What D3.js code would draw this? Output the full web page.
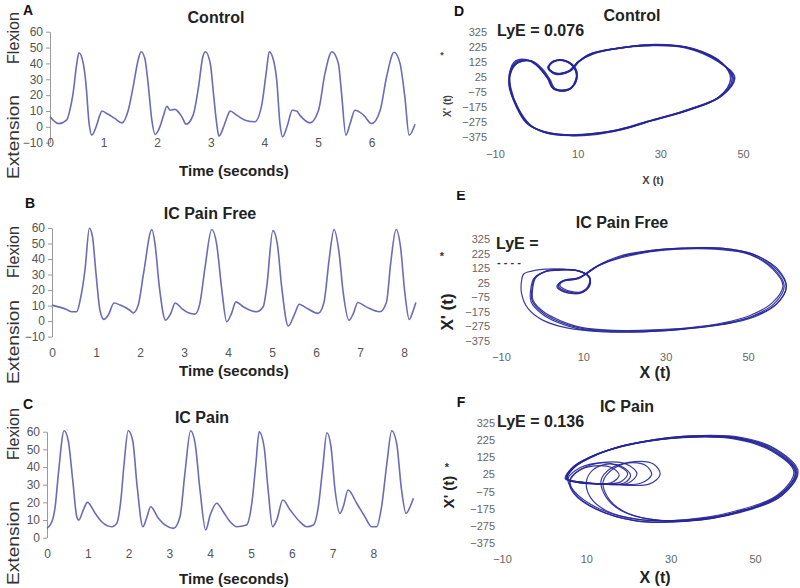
<!DOCTYPE html>
<html><head><meta charset="utf-8">
<script src="https://cdn.jsdelivr.net/npm/d3@7"></script>
<style>body{margin:0;background:#fff} svg{display:block} text{font-family:Arial,"Liberation Sans",sans-serif}</style>
</head><body><svg id="c" width="800" height="588"></svg>
<script>
// ---------- time series data (seconds, degrees) ----------
const timeA  = [0,0.16,0.31,0.37,0.43,0.5,0.54,0.62,0.67,0.73,0.78,0.87,0.93,0.97,1.06,1.21,1.34,1.46,1.55,1.65,1.70,1.77,1.83,1.90,1.96,2.05,2.12,2.18,2.24,2.33,2.46,2.54,2.67,2.77,2.85,2.90,2.99,3.05,3.11,3.15,3.25,3.33,3.36,3.48,3.67,3.82,3.95,4.04,4.09,4.17,4.23,4.29,4.34,4.43,4.52,4.60,4.66,4.85,5.01,5.13,5.26,5.38,5.44,5.52,5.60,5.69,5.85,6.00,6.16,6.28,6.42,6.53,6.62,6.70,6.81];
const angleA = [6.3,2,4.2,10.5,21,40,46.7,40,27.4,2,-5.2,1,7.4,10,8.4,5.3,2.5,10.5,25,43,47.4,43,27.4,4.2,-4.8,0,7.4,13,10.5,11,6.3,1.7,7.4,25,44,47.4,40,21,2,-5.9,1,8.4,10,7.4,3.8,3.2,13.7,35.8,47.4,42,29.5,2,-6.3,1,10.5,10,7.4,2.5,10.5,33.7,47.4,40,21,-5.2,2.1,10.5,7.4,2.1,10.5,31.6,47,40,19,-5.2,1.7];

const timeB  = [0,0.33,0.45,0.56,0.64,0.75,0.85,0.92,1.0,1.09,1.18,1.28,1.41,1.55,1.77,1.85,1.96,2.08,2.27,2.34,2.44,2.58,2.70,2.80,2.95,3.10,3.25,3.36,3.48,3.63,3.74,3.86,3.97,4.08,4.18,4.35,4.65,4.80,4.88,5.02,5.12,5.22,5.37,5.52,5.62,5.75,6.05,6.18,6.30,6.41,6.52,6.62,6.75,6.85,6.95,7.15,7.45,7.60,7.70,7.82,7.92,8.02,8.12,8.20,8.27];
const angleB = [10.3,7.5,6,6,13.5,33,59.8,54.4,30.6,7,1.1,3.9,11.7,10.3,7,5.3,10.3,30.6,59,50,22,0.6,5,11.7,8.1,5.3,4.5,11.3,35,59,50,20,-0.4,5,12.4,9.2,6,9.2,22,58.3,50,22,-3.2,5,10.9,9,5,12,40,59,45,18,0.5,5,12,9,6,12,38,59,48,18,1,6,12];

const timeC  = [0,0.12,0.2,0.28,0.42,0.52,0.63,0.73,0.78,0.89,0.99,1.18,1.34,1.59,1.71,1.81,1.89,1.99,2.10,2.21,2.35,2.44,2.54,2.73,2.89,3.10,3.26,3.38,3.52,3.63,3.75,3.89,4.0,4.16,4.32,4.49,4.65,4.89,5.02,5.12,5.20,5.32,5.42,5.53,5.63,5.78,5.96,6.20,6.37,6.53,6.65,6.76,6.86,6.96,7.06,7.18,7.26,7.38,7.59,7.79,7.96,8.08,8.20,8.33,8.45,8.57,8.69,8.80,8.90,8.98];
const angleC = [5.3,9,17.5,36.4,60.5,55,32.7,11.9,10,15.7,20,13.8,9,6.2,8.1,21.3,42,60.5,55,28.9,6.2,11,17.5,11,7.2,5.3,11.9,36.4,60.5,53.4,27,4.4,12.8,19.5,14.7,9,6.2,7.2,19.5,42,60,51.5,27,6.2,10,21.3,15.7,9,6.2,7.2,17.5,40,59.4,51.5,27,13.8,17.5,27,19.5,11.9,6.2,6.2,17.5,42,60.5,53.4,27,13.8,17.5,22.3];

const secondTicksA = [0,1,2,3,4,5,6];
const secondTicksBC = [0,1,2,3,4,5,6,7,8];
const degreeTicks = [-10,0,10,20,30,40,50,60];
const degreeTicksC = [0,10,20,30,40,50,60];

// ---------- phase portraits: cycles of [X(t), X'(t)] ----------
const phaseD = [
 [[-4.7,125],[-1.5,132],[1,80],[3,10],[4,-50],[7,-68],[8.5,-50],[9.6,0],[9.5,70],[7.5,125],[4.5,130],[2.8,85],[4.5,45],[8,65],[10,120],[13,175],[20,215],[28,236],[37,215],[44.5,120],[47.7,14],[44.5,-108],[36.4,-200],[28,-265],[20,-330],[12,-362],[8,-366],[2,-345],[-2,-290],[-4.7,-175],[-6.4,-40],[-6.2,60]],
 [[-4.3,120],[-1,128],[1.5,75],[3.3,5],[4.5,-55],[7.2,-62],[8.8,-40],[9.8,10],[9.2,85],[7,130],[4,127],[3,80],[5,40],[8.5,70],[10.5,130],[14,180],[21,220],[29,240],[38,212],[45,115],[47,10],[44,-115],[36,-205],[27,-272],[19,-333],[11,-360],[7,-362],[1.5,-340],[-2.5,-280],[-5,-165],[-6.6,-30],[-6,65]],
 [[-5,130],[-2,135],[0.5,90],[2.7,15],[3.8,-45],[6.5,-72],[8.3,-55],[9.4,-5],[9.8,60],[8,120],[5,135],[3,90],[4.2,50],[7.6,58],[9.6,110],[12.5,170],[19,212],[27.5,232],[36,218],[44,125],[48,20],[45,-100],[37,-192],[29,-258],[21,-325],[13,-364],[8.5,-368],[2.5,-350],[-1.5,-295],[-4.4,-185],[-6.2,-50],[-6.4,55]],
 [[-4.5,118],[-1.2,128],[1.2,70],[3.1,0],[4.2,-58],[7,-66],[8.6,-45],[9.7,5],[9.3,75],[7.2,128],[4.2,128],[2.9,82],[4.8,48],[8.2,62],[10.2,125],[13.5,178],[20.5,218],[28.5,238],[37.5,214],[44.8,118],[47.4,12],[44.2,-112],[36.2,-202],[28,-268],[20,-328],[12,-360],[7.5,-364],[2,-342],[-2.2,-285],[-4.8,-170],[-6.5,-35],[-6.3,62]]
];
const phaseE = [
 [[0.7,101],[4.3,113],[8.5,108],[11.3,70],[11.5,10],[9.8,-40],[6.5,-38],[4,0],[5,38],[8.5,55],[10.5,85],[13.5,140],[19,200],[26,240],[33,258],[43,258],[51,215],[56.5,115],[58.8,0],[56.5,-115],[51,-205],[44,-255],[35,-288],[25,-305],[17,-305],[9,-285],[4,-240],[0.3,-184],[-2.4,-100],[-2.5,-20],[-1.8,56]],
 [[1,105],[4.5,116],[9,105],[11.6,60],[11.3,0],[9.5,-45],[6,-42],[3.6,-5],[4.6,32],[8,50],[10.2,80],[13,135],[18.5,205],[26,245],[34,262],[44,260],[52,212],[57.5,110],[59.3,-5],[57,-120],[51.5,-210],[44,-262],[35,-292],[25,-310],[16.5,-310],[8.5,-290],[3.5,-245],[0,-190],[-2.7,-105],[-2.8,-25],[-2,55]],
 [[0.5,98],[4,110],[8,110],[11,75],[11.7,15],[10,-35],[7,-35],[4.3,5],[5.4,42],[9,58],[11,90],[14,145],[19.5,198],[26,236],[32,254],[42,255],[50.5,218],[56,118],[58.5,5],[56,-110],[50.5,-200],[44,-250],[35.5,-284],[25.5,-300],[17.5,-302],[9.5,-282],[4.5,-236],[0.6,-180],[-2.2,-95],[-2.3,-15],[-1.6,58]],
 [[-2.5,105],[1,118],[5,118],[9.5,102],[11.5,55],[11,-5],[9,-42],[5.5,-40],[3.8,-2],[5.2,36],[8.8,52],[10.8,88],[13.5,142],[19,203],[26,243],[34,262],[43.5,262],[51.5,218],[57,115],[59.3,0],[57,-118],[51,-210],[43.5,-262],[34.5,-293],[24.5,-312],[15,-312],[6,-285],[0,-230],[-3.5,-150],[-5,-50],[-5,40],[-4.5,85]]
];
const phaseF = [
 [[5.5,0],[6.8,65],[10,115],[15,165],[22,208],[33.8,243],[45.6,234],[54.3,165],[59.6,40],[55.9,-96],[45.6,-194],[33.8,-240],[22,-236],[15,-190],[11,-110],[10,-20],[11.5,50],[15,85],[18.5,70],[20.5,20],[19,-25],[14,-30],[8.5,-20]],
 [[5.2,2],[7,72],[10.5,122],[15.5,170],[22.5,212],[34,248],[46,240],[54.8,170],[60,38],[56.2,-100],[45.6,-198],[33.5,-246],[21.5,-244],[12.2,-176],[7,-85],[6,-15],[8,45],[12,75],[16,65],[17.8,20],[16,-22],[11.5,-28],[7.5,-18]],
 [[5,0],[6.5,60],[9.8,112],[14.8,162],[21.5,205],[33,240],[45,232],[53.8,163],[59.2,42],[55.5,-92],[45.2,-190],[33.8,-238],[22.2,-238],[12.8,-172],[7.2,-75],[5.6,-5],[7.5,50],[12,90],[17,80],[19.8,30],[18,-20],[12.5,-30],[7.5,-20]],
 [[5.4,0],[7.2,68],[10.8,120],[16,172],[23,214],[34.5,250],[46.5,242],[55,172],[60.2,44],[56.4,-98],[46,-200],[34,-248],[21.8,-246],[12.5,-178],[7.2,-82],[6.2,-10],[8.8,55],[14,95],[19.5,85],[22,30],[20,-25],[13.5,-32],[8,-22]],
 [[5.6,0],[7.5,75],[11.2,128],[16.5,178],[23.5,216],[34.2,246],[45.8,238],[54.5,168],[59.8,40],[56,-95],[46,-196],[34,-246],[25,-236],[18.5,-185],[15,-105],[14,-15],[16.5,60],[21.5,100],[26,85],[27.5,25],[25,-30],[17,-35],[9.5,-22]],
 [[5.3,0],[7.3,70],[11,125],[16.2,175],[23,213],[33.5,244],[45.2,236],[54,166],[59.5,38],[55.7,-94],[45.8,-195],[34,-244],[24.5,-234],[18,-182],[14.5,-100],[13.5,-10],[15.5,55],[20,92],[24,78],[25.5,25],[23,-25],[16,-32],[9,-20]]
];
const phaseYTicks = [325,225,125,25,-75,-175,-275,-375];
const phaseXTicks = [-10,10,30,50];

const titles = ["Control","IC Pain Free","IC Pain"];
const lyeLabels = ["LyE = 0.076","LyE =","LyE = 0.136"];

// ---------- drawing ----------
const svg = d3.select("#c");
svg.append("rect").attr("width",800).attr("height",588).attr("fill","#fff");
const seriesColor = "#6b6bb8";
const phaseColor = "#26269a";
const FONT = "Arial, 'Liberation Sans', sans-serif";

function txt(x, y, s, o) {
  o = o || {};
  const t = svg.append("text").attr("x", x).attr("y", y).text(s)
    .attr("text-anchor", o.anchor || "middle")
    .attr("dominant-baseline", "central")
    .attr("fill", o.fill || "#222")
    .style("font-size", (o.size || 16) + "px")
    .style("font-weight", o.bold ? "bold" : "normal");
  if (o.rotate) t.attr("transform", `rotate(-90,${x},${y})`);
  if (o.len) t.attr("textLength", o.len).attr("lengthAdjust", "spacingAndGlyphs");
  return t;
}

function tsPanel(c) {
  const x = d3.scaleLinear().domain(c.xDomain).range(c.xRange);
  const y = d3.scaleLinear().domain(c.yDomain).range(c.yRange);
  const gy = svg.append("g").attr("transform", `translate(${x(0)},0)`)
    .call(d3.axisLeft(y).tickValues(c.yTicks).tickFormat(d3.format("d")).tickSize(4).tickPadding(3).tickSizeOuter(0));
  gy.select(".domain").attr("stroke", "#9a9a9a");
  gy.selectAll(".tick line").attr("stroke", "#9a9a9a");
  gy.selectAll("text").attr("fill", "#555").style("font-size", "12px").style("font-family", FONT);
  const gx = svg.append("g").attr("transform", `translate(0,${c.xLabelY})`)
    .call(d3.axisBottom(x).tickValues(c.xTicks).tickFormat(d3.format("d")).tickSize(0).tickPadding(0));
  gx.select(".domain").remove();
  gx.selectAll("text").attr("dy", "0.35em").attr("fill", "#555").style("font-size", "12px").style("font-family", FONT);
  const pts = c.t.map((t, i) => [t, c.v[i]]);
  svg.append("path").datum(pts)
    .attr("d", d3.line().x(d => x(d[0])).y(d => y(d[1])).curve(d3.curveMonotoneX))
    .attr("fill", "none").attr("stroke", seriesColor).attr("stroke-width", 1.6);
}

tsPanel({t: timeA, v: angleA, xDomain: [0, 7], xRange: [50, 425.2], yDomain: [-10, 60], yRange: [142.7, 31.7],
  yTicks: degreeTicks, xTicks: secondTicksA, xLabelY: 143});
tsPanel({t: timeB, v: angleB, xDomain: [0, 9], xRange: [52, 448], yDomain: [-10, 60], yRange: [336.6, 228],
  yTicks: degreeTicks, xTicks: secondTicksBC, xLabelY: 353});
tsPanel({t: timeC, v: angleC, xDomain: [0, 9], xRange: [47, 414.2], yDomain: [0, 60], yRange: [537.7, 431.7],
  yTicks: degreeTicksC, xTicks: secondTicksBC, xLabelY: 554});

function phasePanel(c) {
  const x = d3.scaleLinear().domain([-10, 50]).range(c.xRange);
  const y = d3.scaleLinear().domain([-375, 325]).range(c.yRange);
  const gy = svg.append("g").attr("transform", `translate(${c.yAxisX},0)`)
    .call(d3.axisLeft(y).tickValues(phaseYTicks).tickSize(0).tickPadding(0));
  gy.select(".domain").remove();
  gy.selectAll("text").attr("fill", "#666").style("font-size", "11px").style("font-family", FONT);
  const gx = svg.append("g").attr("transform", `translate(0,${c.xLabelY})`)
    .call(d3.axisBottom(x).tickValues(phaseXTicks).tickSize(0).tickPadding(0));
  gx.select(".domain").remove();
  gx.selectAll("text").attr("dy", "0.35em").attr("fill", "#666").style("font-size", "11px").style("font-family", FONT);
  const line = d3.line().x(d => x(d[0])).y(d => y(d[1])).curve(d3.curveCatmullRomClosed.alpha(0.5));
  svg.append("g").selectAll("path").data(c.cycles).join("path")
    .attr("d", line).attr("fill", "none").attr("stroke", phaseColor)
    .attr("stroke-width", c.sw).attr("stroke-opacity", 0.9);
}

phasePanel({cycles: phaseD, xRange: [495, 743], yRange: [136.7, 31.7], yAxisX: 487, xLabelY: 154, sw: 1.5});
phasePanel({cycles: phaseE, xRange: [501, 748], yRange: [341, 239], yAxisX: 490, xLabelY: 357, sw: 1.2});
phasePanel({cycles: phaseF, xRange: [502, 755], yRange: [543, 423], yAxisX: 495, xLabelY: 559, sw: 1.2});

// ---------- texts ----------
txt(28, 10, "A", {bold: true, size: 14, fill: "#111"});
txt(30, 203, "B", {bold: true, size: 14, fill: "#111"});
txt(28, 404, "C", {bold: true, size: 14, fill: "#111"});
txt(459, 11, "D", {bold: true, size: 14, fill: "#111"});
svg.append("clipPath").attr("id", "eclip").append("rect").attr("x", 440).attr("y", 191).attr("width", 40).attr("height", 20);
txt(461, 195, "E", {bold: true, size: 14, fill: "#111"}).attr("clip-path", "url(#eclip)");
txt(461, 402, "F", {bold: true, size: 14, fill: "#111"});

txt(216, 17, titles[0], {bold: true, size: 16});
txt(210, 213, titles[1], {bold: true, size: 16});
txt(202, 417, titles[2], {bold: true, size: 16});
[170, 370, 578].forEach(yy => txt(234, yy, "Time (seconds)", {bold: true, size: 15}));

[[38, 137], [252, 342], [434, 543]].forEach(([f, e]) => {
  txt(13, f, "Flexion", {size: 16, rotate: true, fill: "#333", len: 52});
  txt(13, e, "Extension", {size: 16, rotate: true, fill: "#333", len: 84});
});

txt(632, 15, titles[0], {bold: true, size: 16});
txt(622, 222, titles[1], {bold: true, size: 16});
txt(627, 406, titles[2], {bold: true, size: 16});
txt(497, 30, lyeLabels[0], {bold: true, size: 16, anchor: "start"});
txt(496, 243, lyeLabels[1], {bold: true, size: 16, anchor: "start"});
txt(497, 262, "-  - - -", {bold: true, size: 11, anchor: "start", fill: "#333"});
txt(497, 421, lyeLabels[2], {bold: true, size: 16, anchor: "start"});

txt(653, 180, "X (t)", {bold: true, size: 11, fill: "#444"});
txt(655, 372, "X  (t)", {bold: true, size: 16, fill: "#222"});
txt(655, 577, "X (t)", {bold: true, size: 16, fill: "#222"});
txt(447, 106, "X' (t)", {bold: true, size: 10, rotate: true, fill: "#444"});
txt(447, 312, "X' (t)", {bold: true, size: 17, rotate: true, fill: "#222"});
txt(448, 492, "X' (t)", {bold: true, size: 15, rotate: true, fill: "#222"});
txt(442, 55, "*", {bold: true, size: 9, fill: "#444"});
txt(442, 256, "*", {bold: true, size: 11, fill: "#333"});
txt(447, 467, "*", {bold: true, size: 11, fill: "#333"});
</script></body></html>
